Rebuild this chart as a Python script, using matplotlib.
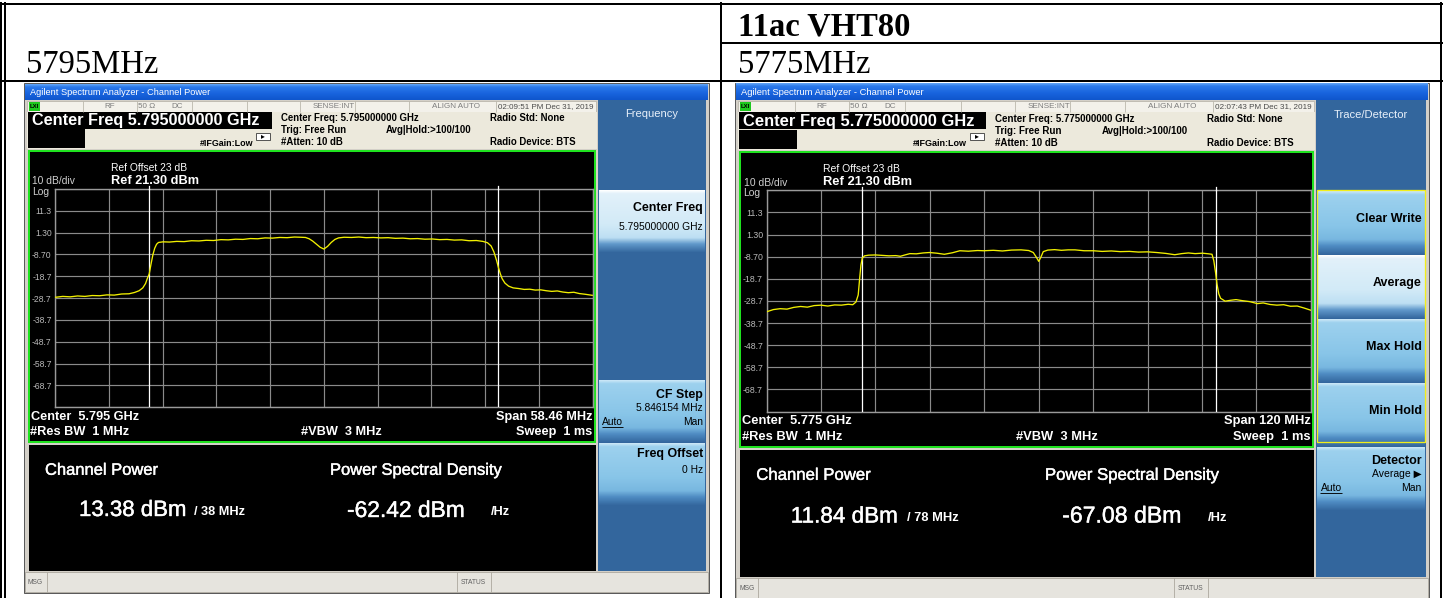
import matplotlib
matplotlib.use("Agg")
import matplotlib.pyplot as plt
import matplotlib.patheffects as pe
import numpy as np
from matplotlib.patches import Rectangle
from matplotlib.colors import LinearSegmentedColormap

plt.rcParams["font.family"] = ["Liberation Sans", "DejaVu Sans"]

W, H, DPI = 1449, 598, 100

# ---------------- measurement data ----------------
ref_level_dbm = 21.30
db_per_div = 10.0
level_tick_labels = ["11.3", "1.30", "-8.70", "-18.7", "-28.7", "-38.7", "-48.7", "-58.7", "-68.7"]

# 5795 MHz capture (span 58.46 MHz)
left_center_mhz = 5795.0
left_span_mhz = 58.46
left_chan_bw_mhz = 38.0
left_offsets_mhz = [
    -29.2, -28.4, -27.6, -26.8, -26.0, -25.2, -24.4, -23.6, -22.8, -22.0,
    -21.2, -20.6, -20.1, -19.7, -19.4, -19.2, -19.0, -18.8, -18.6, -18.4,
    -18.2, -18.0, -17.5, -16.8, -16.0, -15.2, -14.4, -13.6, -12.8, -12.0,
    -11.2, -10.4, -9.6, -8.8, -8.0, -7.2, -6.4, -5.6, -4.8, -4.0,
    -3.2, -2.5, -2.0, -1.6, -1.2, -0.8, -0.4, 0.0, 0.4, 0.8,
    1.2, 1.6, 2.2, 3.0, 3.8, 4.6, 5.4, 6.2, 7.0, 7.8,
    8.6, 9.4, 10.2, 11.0, 11.8, 12.6, 13.4, 14.2, 15.0, 15.8,
    16.6, 17.3, 17.8, 18.2, 18.5, 18.8, 19.0, 19.2, 19.4, 19.7,
    20.1, 20.6, 21.2, 21.8, 22.4, 23.0, 23.6, 24.2, 24.8, 25.4,
    26.0, 26.6, 27.2, 27.8, 28.4, 29.2,
]
left_levels_dbm = [
    -28.3, -27.9, -28.1, -27.7, -27.9, -27.5, -27.6, -27.2, -27.3, -26.8,
    -26.7, -26.1, -25.3, -24.0, -22.0, -19.6, -17.6, -13.0, -8.8, -5.8,
    -4.0, -3.2, -2.9, -3.0, -2.7, -2.8, -2.4, -2.5, -2.2, -2.3,
    -1.9, -2.0, -1.7, -1.8, -1.4, -1.5, -1.1, -1.2, -0.9, -1.0,
    -0.7, -0.8, -0.9, -1.5, -2.6, -4.0, -5.4, -6.2, -5.0, -3.2,
    -1.8, -1.1, -0.8, -0.9, -0.7, -1.0, -0.9, -1.1, -1.0, -1.3,
    -1.2, -1.5, -1.4, -1.7, -1.6, -1.9, -1.8, -2.1, -2.0, -2.4,
    -2.3, -2.7, -3.3, -4.8, -7.5, -11.5, -14.8, -17.5, -19.8, -21.8,
    -23.2, -24.0, -24.3, -24.7, -24.6, -25.0, -24.9, -25.3, -25.6, -25.4,
    -25.9, -26.2, -26.0, -26.6, -26.9, -27.4,
]

# 5775 MHz capture (11ac VHT80, span 120 MHz)
right_center_mhz = 5775.0
right_span_mhz = 120.0
right_chan_bw_mhz = 78.0
right_offsets_mhz = [
    -60.0, -58.5, -57.0, -55.5, -54.0, -52.5, -51.0, -49.5, -48.0, -46.5,
    -45.0, -43.5, -42.0, -41.0, -40.3, -39.8, -39.5, -39.2, -38.9, -38.4,
    -37.5, -36.0, -34.5, -33.0, -31.5, -30.5, -29.5, -28.4, -27.0, -25.5,
    -24.1, -22.5, -20.8, -19.0, -17.4, -15.5, -13.5, -12.1, -10.0, -8.0,
    -6.0, -3.9, -2.2, -1.2, -0.5, 0.0, 0.5, 1.0, 2.0, 3.5,
    5.0, 6.5, 8.0, 10.0, 12.0, 14.0, 16.0, 18.0, 20.0, 22.0,
    24.0, 26.0, 28.0, 30.0, 31.5, 33.0, 34.5, 36.1, 37.5, 38.2,
    38.6, 39.0, 39.3, 39.7, 40.1, 41.1, 42.3, 43.5, 45.0, 46.5,
    48.2, 49.5, 51.0, 52.5, 54.0, 55.5, 57.0, 58.5, 60.0,
]
right_levels_dbm = [
    -33.6, -32.6, -32.2, -32.4, -31.6, -31.2, -31.5, -30.8, -30.6, -31.0,
    -30.5, -30.6, -30.2, -30.4, -29.2, -26.0, -19.0, -12.5, -9.3, -8.3,
    -8.0, -7.9, -8.1, -8.3, -8.2, -8.5, -7.9, -7.3, -7.4, -7.0,
    -6.8, -7.1, -7.6, -6.9, -6.0, -6.2, -5.9, -6.0, -5.8, -6.1,
    -5.7, -5.6, -5.9, -6.8, -9.0, -10.8, -8.8, -6.4, -5.7, -5.5,
    -5.8, -5.6, -5.6, -6.0, -6.0, -6.3, -6.1, -6.4, -6.3, -6.6,
    -6.5, -6.8, -7.2, -7.8, -7.3, -7.0, -7.3, -7.1, -7.4, -7.6,
    -10.5, -16.0, -21.0, -25.5, -27.5, -28.8, -28.4, -28.1, -28.6, -29.0,
    -29.9, -29.6, -30.3, -30.6, -30.4, -31.1, -31.0, -31.9, -32.9,
]

# ---------------- figure ----------------
fig = plt.figure(figsize=(W / DPI, H / DPI), dpi=DPI)
fig.patch.set_facecolor("white")
base = fig.add_axes([0, 0, 1, 1])
base.set_autoscale_on(False)
base.set_xlim(0, W)
base.set_ylim(H, 0)
base.axis("off")

PX = 72.0 / DPI  # points per pixel
HEAVY = [pe.withStroke(linewidth=0.3, foreground="white")]


def vgrad(x0, y0, x1, y1, stops, z=2):
    cmap = LinearSegmentedColormap.from_list("g", stops)
    arr = np.linspace(0, 1, 96).reshape(-1, 1)
    base.imshow(arr, cmap=cmap, vmin=0, vmax=1, extent=[x0, x1, y1, y0],
                origin="upper", aspect="auto", zorder=z, interpolation="bilinear")


PANEL_BLUE = "#33669d"
BTN_NORMAL = [(0.0, "#cbe7f7"), (0.05, "#9dd1ee"), (0.55, "#88c5e8"), (0.76, "#78b7e0"),
              (0.86, "#4f8cc3"), (1.0, PANEL_BLUE)]
BTN_ACTIVE = [(0.0, "#ffffff"), (0.05, "#e2f1fa"), (0.55, "#d2eaf7"), (0.76, "#bddff3"),
              (0.86, "#6199cb"), (1.0, PANEL_BLUE)]


class Screen:
    """Draws one analyzer window, laid out in a local pixel frame."""

    def __init__(self, ox, oy, s):
        self.ox, self.oy, self.s = ox, oy, s

    def X(self, x):
        return self.ox + (x - 26) * self.s

    def Y(self, y):
        return self.oy + (y - 83) * self.s

    def rect(self, x0, y0, x1, y1, fc="none", ec="none", lw=0.0, z=2):
        base.add_patch(Rectangle((self.X(x0), self.Y(y0)), (x1 - x0) * self.s,
                                 (y1 - y0) * self.s, facecolor=fc, edgecolor=ec,
                                 linewidth=lw * PX, zorder=z))

    def line(self, xs, ys, color, lw=1.0, z=3):
        base.plot([self.X(v) for v in xs], [self.Y(v) for v in ys], color=color,
                  lw=lw * PX, zorder=z, solid_capstyle="butt")

    def text(self, x, y, t, size, color="black", weight="normal", ha="left",
             va="center", z=5, **kw):
        base.text(self.X(x), self.Y(y), t, fontsize=size * self.s, color=color,
                  fontweight=weight, ha=ha, va=va, zorder=z, **kw)

    def grad(self, x0, y0, x1, y1, stops, z=2):
        vgrad(self.X(x0), self.Y(y0), self.X(x1), self.Y(y1), stops, z)

    def frame(self, date_str, cf_str, span_str, chan_str, psd_str, chan_bw_str):
        # window body and title bar
        self.rect(24, 83, 709, 593, fc="#d4d0c8", ec="#5a5a5a", lw=1.0, z=1)
        self.grad(25, 84, 708, 100, [(0, "#63a6f7"), (0.18, "#2b79ea"),
                                      (0.6, "#1863dd"), (1, "#0f56cc")])
        self.text(30, 92.3, "Agilent Spectrum Analyzer - Channel Power", 6.7, color="white")
        # status row
        self.rect(27, 101, 596, 112, fc="#f3f1ea", ec="#b9b5aa", lw=0.8)
        for xv in [83, 137, 192, 247, 300, 355, 409, 496]:
            self.line([xv, xv], [101, 112], "#b9b5aa", 0.8)
        self.rect(29, 101.5, 39.5, 111, fc="#1ec81e")
        self.text(34.2, 106.4, "LXI", 4.3, weight="bold", ha="center")
        grey = "#7d7d7d"
        self.text(110, 106.4, "RF", 5.8, color=grey, ha="center")
        self.text(146.5, 106.4, "50 Ω", 5.8, color=grey, ha="center")
        self.text(177, 106.4, "DC", 5.8, color=grey, ha="center")
        self.text(334, 106.4, "SENSE:INT", 5.8, color=grey, ha="center")
        self.text(456, 106.4, "ALIGN AUTO", 5.8, color=grey, ha="center")
        self.text(545.5, 106.4, date_str, 5.8, color="#4a4a4a", ha="center")
        # settings block
        self.rect(27, 112, 597, 149, fc="#ece9dc")
        self.rect(28, 112, 272, 128.5, fc="black")
        self.text(31.5, 120.6, "Center Freq " + cf_str + " GHz", 11.7, color="white",
                  weight="bold")
        self.rect(28, 129, 85, 148, fc="black")
        self.rect(256, 132.5, 270, 139.5, fc="white", ec="#303030", lw=0.8)
        self.text(263, 136.3, "▸", 5.5, ha="center")
        self.text(200, 143.2, "#IFGain:Low", 6.4, weight="bold")
        self.text(281, 118.3, "Center Freq: " + cf_str + " GHz", 6.9, weight="bold")
        self.text(281, 130.3, "Trig: Free Run", 6.9, weight="bold")
        self.text(386, 130.3, "Avg|Hold:>100/100", 6.9, weight="bold")
        self.text(281, 142.3, "#Atten: 10 dB", 6.9, weight="bold")
        self.text(490, 118.3, "Radio Std: None", 6.9, weight="bold")
        self.text(490, 142.3, "Radio Device: BTS", 6.9, weight="bold")
        # graticule window
        self.rect(28, 150, 596, 443, fc="black", z=2)
        self.rect(29, 151, 595, 442, ec="#1fe21f", lw=2.0, z=6)
        light = "#cfcfcf"
        self.text(110.7, 168.3, "Ref Offset 23 dB", 7.4, color="white")
        self.text(32.5, 181.3, "10 dB/div", 7.4, color=light)
        self.text(110.7, 180.6, "Ref 21.30 dBm", 9.2, color="white", weight="bold")
        self.text(32.5, 191.6, "Log", 7.4, color=light)
        self.text(31, 416.6, "Center  " + cf_str[:5] + " GHz", 9.2, color="white", weight="bold")
        self.text(30.5, 432.2, "#Res BW  1 MHz", 9.2, color="white", weight="bold")
        self.text(301, 432.2, "#VBW  3 MHz", 9.2, color="white", weight="bold")
        self.text(592.5, 416.6, "Span " + span_str + " MHz", 9.2, color="white",
                  weight="bold", ha="right")
        self.text(592.5, 432.2, "Sweep  1 ms", 9.2, color="white", weight="bold", ha="right")
        # result window
        self.rect(29, 445, 596, 571, fc="black")
        self.text(45, 470.3, "Channel Power", 11.9, color="white", path_effects=HEAVY)
        self.text(79, 510.5, chan_str + " dBm", 16.0, color="white", path_effects=HEAVY)
        self.text(194, 512.3, "/ " + chan_bw_str + " MHz", 9.2, color="white", weight="bold")
        self.text(330, 470.3, "Power Spectral Density", 11.9, color="white", path_effects=HEAVY)
        self.text(347, 510.5, psd_str + " dBm", 16.4, color="white", path_effects=HEAVY)
        self.text(491, 512.3, "/Hz", 9.2, color="white", weight="bold")
        # message bar
        self.rect(25, 572, 708, 592, fc="#e6e4de", ec="#a9a59b", lw=0.8)
        for xv in [47, 457, 491]:
            self.line([xv, xv], [572, 592], "#a9a59b", 0.8)
        self.text(28, 582.3, "MSG", 4.8, color="#606060")
        self.text(461, 582.3, "STATUS", 4.8, color="#606060")
        # soft-key column
        self.rect(598, 100, 706, 571, fc=PANEL_BLUE)

    def key(self, slot, active=False):
        y0 = 190 + 63.2 * slot
        self.grad(599, y0, 705, y0 + 63, BTN_ACTIVE if active else BTN_NORMAL, z=3)
        return y0

    def underlined(self, x, y, t, size):
        self.text(x, y, t, size)
        self.line([x, x + 21], [y + 5.2, y + 5.2], "black", 0.9, z=6)

    def graph(self, center, span, chan_bw, offsets, levels):
        x0, x1 = self.X(55.2), self.X(592.5)
        y0, y1 = self.Y(189.0), self.Y(407.3)
        ax = fig.add_axes([x0 / W, 1 - y1 / H, (x1 - x0) / W, (y1 - y0) / H])
        ax.set_facecolor("black")
        lo, hi = center - span / 2, center + span / 2
        bottom = ref_level_dbm - 10 * db_per_div
        ax.set_xlim(lo, hi)
        ax.set_ylim(bottom, ref_level_dbm)
        ax.set_xticks(np.linspace(lo, hi, 11))
        ax.set_xticklabels([])
        yt = [ref_level_dbm - k * db_per_div for k in range(11)]
        ax.set_yticks(yt)
        ax.set_yticklabels([""] + level_tick_labels + [""])
        ax.tick_params(length=0, labelsize=6.2 * self.s, labelcolor="#b9b9b9", pad=2.5)
        ax.grid(True, color="#8a8a8a", lw=0.85)
        for sp in ax.spines.values():
            sp.set_color("#9a9a9a")
            sp.set_linewidth(1.0)
        for edge in (center - chan_bw / 2, center + chan_bw / 2):
            ax.axvline(edge, color="white", lw=0.9, zorder=3)
            ax.plot([edge, edge], [ref_level_dbm, ref_level_dbm + 1.6], color="white",
                    lw=0.9, clip_on=False, zorder=3)
        ax.plot([center + o for o in offsets], levels, color="#f2f000", lw=0.95, zorder=4)
        return ax


# ---------------- table ----------------
tl = 2.0 * PX
base.plot([0, 1442], [4, 4], color="black", lw=tl, zorder=10)
base.plot([0, 1442], [80.5, 80.5], color="black", lw=tl, zorder=10)
base.plot([721, 1442], [42.5, 42.5], color="black", lw=tl, zorder=10)
base.plot([1.2, 1.2], [3, H], color="black", lw=tl, zorder=10)
base.plot([5.2, 5.2], [3, H], color="black", lw=tl, zorder=10)
base.plot([721, 721], [3, H], color="black", lw=tl, zorder=10)
base.plot([1441, 1441], [3, H], color="black", lw=tl, zorder=10)
serif = ["Liberation Serif", "DejaVu Serif"]
base.text(26, 72.8, "5795MHz", fontsize=23.5, family=serif, va="baseline", zorder=10)
base.text(738, 72.8, "5775MHz", fontsize=23.5, family=serif, va="baseline", zorder=10)
base.text(738, 35.2, "11ac VHT80", fontsize=23.5, family=serif, weight="bold",
          va="baseline", zorder=10)

# ---------------- left analyzer window ----------------
L = Screen(26, 83, 1.0)
L.frame("02:09:51 PM Dec 31, 2019", "5.795000000", "58.46", "13.38", "-62.42", "38")
L.text(652, 114.3, "Frequency", 8.0, color="#e8f0fa", ha="center")
y = L.key(0, active=True)
L.text(703, y + 18, "Center Freq", 8.9, weight="bold", ha="right")
L.text(703, y + 37, "5.795000000 GHz", 7.4, ha="right")
y = L.key(3)
L.text(703, y + 15, "CF Step", 8.9, weight="bold", ha="right")
L.text(703, y + 28.3, "5.846154 MHz", 7.4, ha="right")
L.underlined(602, y + 42, "Auto", 7.4)
L.text(703, y + 42, "Man", 7.4, ha="right")
y = L.key(4)
L.text(703, y + 11.5, "Freq Offset", 8.9, weight="bold", ha="right")
L.text(703, y + 27.5, "0 Hz", 7.4, ha="right")
L.graph(left_center_mhz, left_span_mhz, left_chan_bw_mhz, left_offsets_mhz, left_levels_dbm)

# ---------------- right analyzer window ----------------
R = Screen(737, 83, 1.013)
R.frame("02:07:43 PM Dec 31, 2019", "5.775000000", "120", "11.84", "-67.08", "78")
R.text(652, 114.3, "Trace/Detector", 8.0, color="#e8f0fa", ha="center")
for slot, label in enumerate(["Clear Write", "Average", "Max Hold", "Min Hold"]):
    y = R.key(slot, active=(label == "Average"))
    R.text(702, y + 27.5, label, 8.9, weight="bold", ha="right")
R.rect(599, 189, 705, 437.5, ec="#f2ee1a", lw=1.3, z=6)
y = R.key(4)
R.text(702, y + 13, "Detector", 8.9, weight="bold", ha="right")
R.text(702, y + 26.5, "Average ▶", 7.4, ha="right")
R.underlined(602, y + 40, "Auto", 7.4)
R.text(702, y + 40, "Man", 7.4, ha="right")
R.graph(right_center_mhz, right_span_mhz, right_chan_bw_mhz, right_offsets_mhz, right_levels_dbm)

fig.savefig("out.png", dpi=DPI)
